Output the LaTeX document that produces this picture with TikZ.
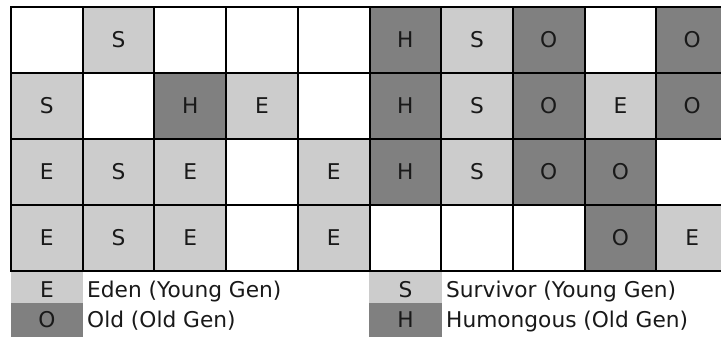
\documentclass[tikz,border=0pt]{standalone}
\usepackage{fontspec}
\setmainfont{DejaVu Sans}
\begin{document}
\begin{tikzpicture}[x=1pt,y=1pt,
  every node/.style={font=\fontsize{21.7}{26}\selectfont, text=black!90},
  cell/.style={minimum width=71.7pt, minimum height=66pt, inner sep=0pt, outer sep=0pt},
  young/.style={fill=black!20},
  old/.style={fill=black!50},
  gridline/.style={line width=2pt, black},
  legtext/.style={anchor=base west, inner sep=0pt}]
\useasboundingbox (0,0) rectangle (721,338);
\clip (0,0) rectangle (721,338);
\fill[white] (0,0) rectangle (721,338);
% filled cells: row/col/letter/style
\foreach \r/\c/\L/\s in {
  0/1/S/young, 0/5/H/old, 0/6/S/young, 0/7/O/old, 0/9/O/old,
  1/0/S/young, 1/2/H/old, 1/3/E/young, 1/5/H/old, 1/6/S/young, 1/7/O/old, 1/8/E/young, 1/9/O/old,
  2/0/E/young, 2/1/S/young, 2/2/E/young, 2/4/E/young, 2/5/H/old, 2/6/S/young, 2/7/O/old, 2/8/O/old,
  3/0/E/young, 3/1/S/young, 3/2/E/young, 3/4/E/young, 3/8/O/old, 3/9/E/young}
  \node[cell, \s] (c\r-\c) at ({46.85+71.7*\c},{298-66*\r}) {\L};
% grid lines
\foreach \i in {0,...,10}
  \draw[gridline] ({11+71.7*\i},331) -- ({11+71.7*\i},67);
\foreach \j in {0,...,4}
  \draw[gridline] (10,{331-66*\j}) -- (730,{331-66*\j});
% legend
\fill[black!20] (11,35) rectangle (83,66);
\fill[black!50] (11,1) rectangle (83,35);
\fill[black!20] (369,35) rectangle (442,66);
\fill[black!50] (369,1) rectangle (442,35);
\node[anchor=base, inner sep=0pt] (lE) at (47,41) {E};
\node[anchor=base, inner sep=0pt] (lO) at (47,10.5) {O};
\node[anchor=base, inner sep=0pt] (lS) at (405.5,41) {S};
\node[anchor=base, inner sep=0pt] (lH) at (405.5,10.5) {H};
\node[legtext] (tE) at (87,41) {Eden (Young Gen)};
\node[legtext] (tO) at (87,10.5) {Old (Old Gen)};
\node[legtext] (tS) at (446,41) {Survivor (Young Gen)};
\node[legtext] (tH) at (446,10.5) {Humongous (Old Gen)};
\end{tikzpicture}
\end{document}
